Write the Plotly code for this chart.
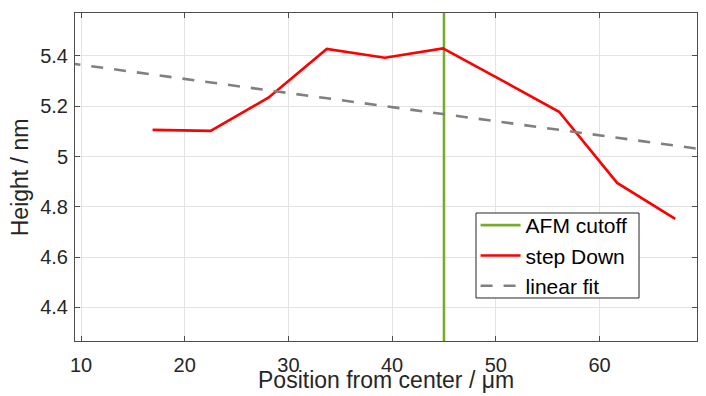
import plotly.graph_objects as go

# Data
step_x = [16.9, 22.5, 28.1, 33.7, 39.3, 44.9, 50.5, 56.1, 61.7, 67.3]
step_y = [5.106, 5.102, 5.235, 5.428, 5.393, 5.430, 5.305, 5.178, 4.895, 4.752]
fit_x = [0, 80]
fit_y = [5.421, 4.972]
cutoff_x = [45, 45]
cutoff_y = [4.0, 6.0]
x_ticks = [10, 20, 30, 40, 50, 60]
y_ticks = [4.4, 4.6, 4.8, 5.0, 5.2, 5.4]
y_tick_labels = ["4.4", "4.6", "4.8", "5", "5.2", "5.4"]

FONT = "Liberation Sans, Arial, Helvetica, sans-serif"
TXT = "#262626"

fig = go.Figure()
fig.add_trace(go.Scatter(x=cutoff_x, y=cutoff_y, mode="lines", name="AFM cutoff",
                         line=dict(color="#77AC30", width=2.6)))
fig.add_trace(go.Scatter(x=step_x, y=step_y, mode="lines", name="step Down",
                         line=dict(color="#FF0000", width=2.6)))
fig.add_trace(go.Scatter(x=fit_x, y=fit_y, mode="lines", name="linear fit",
                         line=dict(color="#808080", width=2.6, dash="12px,11px")))

axis_common = dict(showline=True, linecolor="#4d4d4d", linewidth=1, mirror="ticks",
                   ticks="inside", ticklen=5, tickcolor="#4d4d4d", automargin=False,
                   showgrid=True, gridcolor="#e3e3e3", gridwidth=1, zeroline=False,
                   tickfont=dict(family=FONT, size=20, color=TXT))

fig.update_xaxes(range=[9.42, 69.4], tickvals=x_ticks, ticklabelstandoff=6, **axis_common)
fig.update_yaxes(range=[4.266, 5.571], tickvals=y_ticks, ticktext=y_tick_labels,
                 ticklabelstandoff=2, **axis_common)

fig.add_annotation(text="Position from center / μm", xref="paper", yref="paper",
                   x=0.5, y=-0.119, xanchor="center", yanchor="middle", showarrow=False,
                   font=dict(family=FONT, size=23, color=TXT))
fig.add_annotation(text="Height / nm", xref="paper", yref="paper",
                   x=-0.088, y=0.5, xanchor="center", yanchor="middle", showarrow=False,
                   textangle=-90, font=dict(family=FONT, size=23, color=TXT))

# legend frame (tight box as in the reference)
fig.add_shape(type="rect", xref="paper", yref="paper",
              x0=0.6447, x1=0.9068, y0=0.1311, y1=0.3902,
              line=dict(color="#262626", width=1), fillcolor="white", layer="above")

# Page body adds an 8px margin, so the figure is sized to fill the 706x396 window
fig.update_layout(
    width=698, height=388,
    margin=dict(l=67, r=9, t=5, b=55),
    paper_bgcolor="white", plot_bgcolor="white",
    showlegend=True,
    legend=dict(x=0.644, y=0.4146, xanchor="left", yanchor="top",
                bgcolor="rgba(0,0,0,0)", borderwidth=0,
                font=dict(family=FONT, size=21, color="#000000"),
                tracegroupgap=0, itemwidth=40),
)

fig.write_html("out.html")
